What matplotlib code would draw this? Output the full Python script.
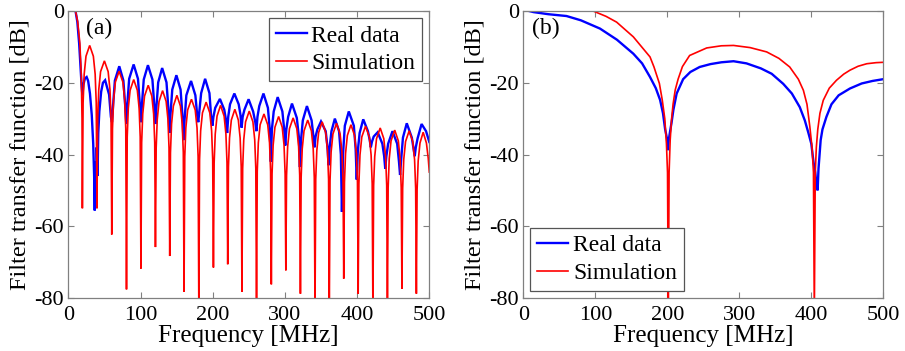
import matplotlib
matplotlib.use("Agg")
import matplotlib.pyplot as plt

plt.rcParams['font.family'] = ['Liberation Serif', 'DejaVu Serif']
plt.rcParams['axes.unicode_minus'] = False

# ---------------- data ----------------
x_ticks = [0, 100, 200, 300, 400, 500]
y_ticks = [0, -20, -40, -60, -80]
series_names = ['Real data', 'Simulation']
panel_tags = ['(a)', '(b)']

# Panel (a): simulation (red)
sim_a_freq = [10, 13, 16, 18, 19, 19.5,
              20.5, 22, 24.5, 29.6, 34.7, 37.2, 38.7, 39.7,
              40.7, 42.2, 44.7, 50, 55.2, 57.7, 59.2, 60.2,
              61.2, 62.7, 65.2, 70.4, 75.6, 78.1, 79.6, 80.6,
              81.6, 83.1, 85.6, 90.6, 95.6, 98.1, 99.6, 100.6,
              101.6, 103.1, 105.6, 110.7, 115.7, 118.2, 119.7, 120.7,
              121.7, 123.2, 125.7, 130.6, 135.5, 138.0, 139.5, 140.5,
              141.5, 143.0, 145.5, 150.4, 155.3, 157.8, 159.3, 160.3,
              161.3, 162.8, 165.3, 170.6, 175.8, 178.3, 179.8, 180.8,
              181.8, 183.3, 185.8, 190.9, 196.0, 198.5, 200.0, 201.0,
              202.0, 203.5, 206.0, 210.9, 215.8, 218.3, 219.8, 220.8,
              221.8, 223.3, 225.8, 230.7, 235.5, 238.0, 239.5, 240.5,
              241.5, 243.0, 245.5, 250.6, 255.7, 258.2, 259.7, 260.7,
              261.7, 263.2, 265.7, 271.0, 276.2, 278.7, 280.2, 281.2,
              282.2, 283.7, 286.2, 291.3, 296.3, 298.8, 300.3, 301.3,
              302.3, 303.8, 306.3, 311.4, 316.5, 319.0, 320.5, 321.5,
              322.5, 324.0, 326.5, 331.6, 336.7, 339.2, 340.7, 341.7,
              342.7, 344.2, 346.7, 351.6, 356.5, 359.0, 360.5, 361.5,
              362.5, 364.0, 366.5, 371.5, 376.5, 379.0, 380.5, 381.5,
              382.5, 384.0, 386.5, 391.5, 396.5, 399.0, 400.5, 401.5,
              402.5, 404.0, 406.5, 411.7, 416.9, 419.4, 420.9, 421.9,
              422.9, 424.4, 426.9, 432.0, 437.0, 439.5, 441.0, 442.0,
              443.0, 444.5, 447.0, 452.1, 457.1, 459.6, 461.1, 462.1,
              463.1, 464.6, 467.1, 472.1, 477.1, 479.6, 481.1, 482.1,
              483.1, 484.6, 487.1, 491.5, 496.0, 498.5, 500.0]
sim_a_db = [0, -3, -9, -18, -30, -55,
            -25.6, -17.6, -12.6, -9.6, -12.6, -17.6, -25.6, -55,
            -29.9, -21.9, -16.9, -13.9, -16.9, -21.9, -29.9, -62.3,
            -32.8, -24.8, -19.8, -16.8, -19.8, -24.8, -32.8, -77.6,
            -35.1, -27.1, -22.1, -19.1, -22.1, -27.1, -35.1, -71.8,
            -36.7, -28.7, -23.7, -20.7, -23.7, -28.7, -36.7, -65.8,
            -38.2, -30.2, -25.2, -22.2, -25.2, -30.2, -38.2, -68.3,
            -39.5, -31.5, -26.5, -23.5, -26.5, -31.5, -39.5, -78.3,
            -40.6, -32.6, -27.6, -24.6, -27.6, -32.6, -40.6, -84,
            -41.4, -33.4, -28.4, -25.4, -28.4, -33.4, -41.4, -71.5,
            -42.3, -34.3, -29.3, -26.3, -29.3, -34.3, -42.3, -70.6,
            -43.4, -35.4, -30.4, -27.4, -30.4, -35.4, -43.4, -78.3,
            -43.9, -35.9, -30.9, -27.9, -30.9, -35.9, -43.9, -84,
            -44.7, -36.7, -31.7, -28.7, -31.7, -36.7, -44.7, -76.2,
            -45.4, -37.4, -32.4, -29.4, -32.4, -37.4, -45.4, -72.3,
            -45.8, -37.8, -32.8, -29.8, -32.8, -37.8, -45.8, -78.8,
            -46.4, -38.4, -33.4, -30.4, -33.4, -38.4, -46.4, -84,
            -46.9, -38.9, -33.9, -30.9, -33.9, -38.9, -46.9, -84,
            -47.3, -39.3, -34.3, -31.3, -34.3, -39.3, -47.3, -74.6,
            -47.7, -39.7, -34.7, -31.7, -34.7, -39.7, -47.7, -78.8,
            -48.1, -40.1, -35.1, -32.1, -35.1, -40.1, -48.1, -84,
            -48.6, -40.6, -35.6, -32.6, -35.6, -40.6, -48.6, -84,
            -49.2, -41.2, -36.2, -33.2, -36.2, -41.2, -49.2, -77.4,
            -49.4, -41.4, -36.4, -33.4, -36.4, -41.4, -49.4, -78.8,
            -49.8, -41.8, -36.8, -33.8, -36.8, -41.0, -44.9]

# Panel (a): real data (blue)
real_a_freq = [10, 12.5, 15, 17, 18.5, 19.5, 21, 23, 25.4, 27.5,
               30, 32.5, 34.5, 35.8, 36.6, 37.4, 38.4, 39.3, 40.5, 41.5,
               43, 45.5, 48, 51, 56.5, 59, 60.5,
               62, 64.5, 70.6, 76.3, 78.8, 80.3,
               81.8, 84.3, 90.5, 96.5, 99, 100.5,
               102, 104.5, 110.3, 116.5, 119, 120.5,
               122, 124.5, 130, 136, 138.5, 140,
               141.5, 144, 149.7, 155.5, 158, 159.5,
               161, 163.5, 170, 176, 178.5, 180,
               181.5, 184, 189.5, 195.5, 198, 199.5,
               201, 203.5, 210, 216, 218.5, 220,
               221.5, 224, 230, 236, 238.5, 240,
               241.5, 244, 249.7, 256, 259, 260.5,
               262, 264.5, 270.3, 276.5, 279, 280.5,
               282, 284.5, 290, 296.5, 299, 300.5,
               302, 304.5, 309.8, 316.5, 319.3, 320.8,
               322.3, 324.8, 330.5, 337, 339.5, 341,
               342.5, 345, 350, 356.5, 359, 360.5,
               362, 364.5, 369.2, 375, 377.5, 379,
               380.5, 383, 388.5, 395.5, 398, 399.5,
               401, 403.5, 408.5, 415, 417.5, 419,
               420.5, 423, 428.5, 435, 437.5, 439,
               440.5, 443, 449, 455.5, 458, 459.5,
               461, 463.5, 468.8, 475.8, 478.3, 479.8,
               481.3, 483.8, 489.3, 495.5, 498.5, 500]
real_a_db = [0, -3, -9, -16, -21, -23.5, -20.5, -18.8, -18.4, -19.5,
             -23, -29, -37, -46, -55.6, -42, -50, -38, -46, -34,
             -28, -22.5, -20, -19.3, -23.3, -29.5, -31,
             -26.4, -19.4, -15.4, -19.4, -26.4, -31.5,
             -25.9, -18.9, -14.9, -18.9, -25.9, -31,
             -26.1, -19.1, -15.1, -19.1, -26.1, -31.5,
             -26.9, -19.9, -15.9, -19.9, -26.9, -34,
             -28.9, -21.9, -17.9, -21.9, -28.9, -36,
             -30.5, -23.5, -19.5, -23.5, -29, -31,
             -28, -22.9, -18.9, -22.9, -29.9, -32,
             -29.5, -27, -24.5, -27.5, -30.5, -34,
             -29.5, -26, -23, -26, -29, -32.5,
             -29.5, -27.5, -24.6, -28, -31, -33.5,
             -29.5, -26.5, -23, -27, -33, -42,
             -33, -28, -24, -28, -33, -37.5,
             -33, -29.5, -25.8, -29.8, -35, -43.5,
             -36, -30.5, -26.5, -30.5, -35, -38,
             -35, -33, -30.8, -33.5, -38, -43,
             -38, -33.5, -30, -33.5, -40, -56,
             -40, -32, -28, -32, -38.5, -47,
             -39, -34, -30.2, -33.5, -36, -38,
             -36.5, -35, -33.8, -37, -40.5, -44,
             -40.5, -37, -33.5, -37, -42, -45.7,
             -41.5, -35.3, -31.3, -35.3, -38.5, -40.5,
             -38, -35.5, -31.5, -33.5, -35.5, -36.5]

# Panel (b): real data (blue)
real_b_freq = [8, 14, 35, 60, 80, 106.5, 130, 152.8, 165, 176,
               184, 190, 194, 197, 199.5, 200.7, 202, 203.5, 206, 208.5,
               213, 222, 232, 245, 260, 275, 292, 310, 330, 345,
               361, 373, 384, 391, 396, 400, 403, 405.5, 407, 408.8,
               410, 411.5, 413, 415.5, 421, 428, 438, 453.7, 470, 485,
               500]
real_b_db = [0, -0.3, -0.9, -1.4, -2.6, -4.9, -8, -11.9, -14.6, -18.4,
             -21.5, -24.8, -28.5, -33, -35.5, -38.8, -36, -34, -31, -27.5,
             -23, -19, -17, -15.6, -14.8, -14.3, -14.0, -14.6, -16, -17.5,
             -20.3, -23, -26.8, -30.5, -34, -37, -42, -45, -48, -50,
             -44, -40, -36, -33, -29.5, -26, -23.5, -21.6, -20.2, -19.5,
             -19.0]

# Panel (b): simulation (red)
sim_b_freq = [97, 115, 129.6, 152.8, 176, 181.5, 189, 193, 196.5, 198.8,
              200.3, 201.4, 202.5, 204, 206, 208, 211, 215, 221, 231,
              254.7, 275, 292, 315, 338, 355, 370, 382, 389, 394,
              398, 401, 403, 404.2, 405.5, 407, 409, 412, 416.6, 425,
              435, 445, 453.7, 465, 477, 490, 500]
sim_b_db = [0, -1.5, -3.1, -7.2, -12.8, -15.6, -20.2, -24.8, -30, -37,
            -45, -85, -45, -36, -30, -26, -22, -19, -15.5, -12.4,
            -10.3, -9.7, -9.6, -10.2, -11.4, -13.2, -15.6, -19, -22.1, -26,
            -32.3, -38, -45, -85, -45, -38, -33, -28.5, -24.9, -21.5,
            -19.3, -17.6, -16.5, -15.4, -14.7, -14.4, -14.3]

# ---------------- figure ----------------
W, H = 905, 351
SERIF = 'Liberation Serif'
fig = plt.figure(figsize=(W / 100, H / 100), dpi=100)
axA = fig.add_axes([68.3 / W, (H - 298) / H, 361 / W, 287 / H])
axB = fig.add_axes([523.3 / W, (H - 298) / H, 360 / W, 287 / H])

spine_col = '#808080'
panels = [
    (axA, real_a_freq, real_a_db, sim_a_freq, sim_a_db, panel_tags[0], 'upper right', 0.05),
    (axB, real_b_freq, real_b_db, sim_b_freq, sim_b_db, panel_tags[1], 'lower left', 0.025),
]
for ax, rf, rd, sf, sd, tag, loc, tx in panels:
    ax.plot(rf, rd, color='#0000ff', lw=1.7, label=series_names[0], solid_joinstyle='miter')
    ax.plot(sf, sd, color='#ff0000', lw=1.2, label=series_names[1], solid_joinstyle='miter')
    ax.set_xlim(0, 500)
    ax.set_ylim(-80, 0)
    ax.set_xticks(x_ticks)
    ax.set_yticks(y_ticks)
    ax.set_xticklabels([str(v) for v in x_ticks], family=SERIF, fontsize=16)
    ax.set_yticklabels([str(v) for v in y_ticks], family=SERIF, fontsize=16)
    ax.tick_params(direction='in', top=True, right=True, length=4, width=0.8,
                   color=spine_col)
    ax.tick_params(axis='x', pad=6)
    ax.tick_params(axis='y', pad=3)
    for s in ax.spines.values():
        s.set_color(spine_col)
        s.set_linewidth(0.9)
    ax.set_xlabel('Frequency [MHz]', family=SERIF, fontsize=18, labelpad=0)
    ax.set_ylabel('Filter transfer function [dB]', family=SERIF, fontsize=17.5, labelpad=3)
    ax.text(tx, 0.975, tag, transform=ax.transAxes, ha='left', va='top',
            family=SERIF, fontsize=17)
    leg = ax.legend(loc=loc, prop={'family': SERIF, 'size': 17}, fancybox=False,
                    framealpha=1, edgecolor='#555555', handlelength=1.3,
                    handletextpad=0.2, borderpad=0.3, labelspacing=0.25,
                    borderaxespad=0.3)
    leg.get_frame().set_linewidth(0.9)

fig.savefig('out.png', dpi=100)
